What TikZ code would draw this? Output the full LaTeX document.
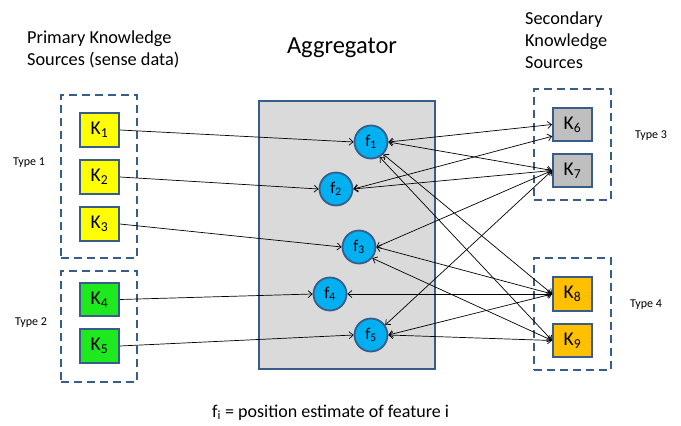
\documentclass[tikz,border=0pt]{standalone}
\usepackage{fontspec}
\setmainfont{Carlito}
\usetikzlibrary{arrows.meta}
\definecolor{bordc}{RGB}{56,93,138}
\definecolor{ky}{RGB}{255,255,0}
\definecolor{kg}{RGB}{30,232,30}
\definecolor{kgr}{RGB}{191,191,191}
\definecolor{ko}{RGB}{255,192,0}
\definecolor{cyanc}{RGB}{0,176,240}
\definecolor{aggc}{RGB}{218,218,218}
\begin{document}
\begin{tikzpicture}[x=1pt,y=-1pt,
  >={Straight Barb[length=4pt,width=7pt]},
  kbox/.style={draw=bordc,line width=1.8pt,minimum width=39pt,minimum height=33.5pt,inner sep=0pt,font=\fontsize{19.5}{21}\selectfont},
  fnode/.style={circle,draw=bordc,fill=cyanc,line width=1.8pt,minimum size=33pt,inner sep=0pt,font=\fontsize{16.5}{18}\selectfont},
  grp/.style={draw=bordc,line width=2.4pt,dash pattern=on 8pt off 5pt,inner sep=0pt},
  title/.style={anchor=base west,inner sep=0pt,font=\fontsize{18.3}{22}\selectfont},
  typel/.style={inner sep=0pt,font=\fontsize{12}{14}\selectfont},
  feed/.style={draw=black,line width=0.7pt,->},
  link/.style={draw=black,line width=0.7pt,<->},
]
\useasboundingbox (0,0) rectangle (681,426);

% titles
\node[title] (t1a) at (27,43) {Primary Knowledge};
\node[title] (t1b) at (27,65) {Sources (sense data)};
\node[anchor=base,inner sep=0pt,font=\fontsize{24.5}{27}\selectfont] (t2) at (342,53) {Aggregator};
\node[title] (t3a) at (525,24) {Secondary};
\node[title] (t3b) at (525,46) {Knowledge};
\node[title] (t3c) at (525,68) {Sources};

% group boxes
\node[grp,minimum width=76pt,minimum height=163pt] (g1) at (99,176.5) {};
\node[grp,minimum width=76pt,minimum height=111pt] (g2) at (99,326.5) {};
\node[grp,minimum width=77pt,minimum height=111pt] (g3) at (572.5,144.5) {};
\node[grp,minimum width=77pt,minimum height=112pt] (g4) at (572.5,314) {};

\node[typel] (ty1) at (29,163) {Type 1};
\node[typel] (ty2) at (31,323) {Type 2};
\node[typel] (ty3) at (651,136) {Type 3};
\node[typel] (ty4) at (646,305) {Type 4};

% aggregator
\node[draw=bordc,fill=aggc,line width=2pt,minimum width=176pt,minimum height=268pt,inner sep=0pt] (agg) at (347,235) {};

% knowledge sources
\node[kbox,fill=ky] (K1) at (99.5,130) {K\textsubscript{1}};
\node[kbox,fill=ky] (K2) at (99.5,177) {K\textsubscript{2}};
\node[kbox,fill=ky] (K3) at (99.5,224) {K\textsubscript{3}};
\node[kbox,fill=kg] (K4) at (99.5,299.5) {K\textsubscript{4}};
\node[kbox,fill=kg] (K5) at (99.5,346) {K\textsubscript{5}};
\node[kbox,fill=kgr] (K6) at (572.5,124.5) {K\textsubscript{6}};
\node[kbox,fill=kgr] (K7) at (572.5,170.5) {K\textsubscript{7}};
\node[kbox,fill=ko] (K8) at (572.5,294) {K\textsubscript{8}};
\node[kbox,fill=ko] (K9) at (572.5,340.5) {K\textsubscript{9}};

% features
\node[fnode] (f1) at (371,142) {f\textsubscript{1}};
\node[fnode] (f2) at (336,189) {f\textsubscript{2}};
\node[fnode] (f3) at (359,247) {f\textsubscript{3}};
\node[fnode] (f4) at (330,294) {f\textsubscript{4}};
\node[fnode] (f5) at (371,335) {f\textsubscript{5}};

% primary links
\draw[feed] (K1.east) -- (f1.west);
\draw[feed] (K2.east) -- (f2.west);
\draw[feed] (K3.east) -- (f3.west);
\draw[feed] (K4.east) -- (f4.west);
\draw[feed] (K5.east) -- (f5.west);

% secondary links
\draw[link] (f1.east) -- (K6.west);
\draw[link] (f1.east) -- (K7.west);
\draw[link] (f1.-45) -- (K8.west);
\draw[link] (f1.-60) -- (K9.west);
\draw[link] (f2.east) -- (K6.210);
\draw[link] (f2.east) -- (K7.west);
\draw[link] (f3.east) -- (K7.west);
\draw[link] (f3.east) -- (K8.west);
\draw[link] (f3.-40) -- (K9.west);
\draw[link] (f4.east) -- (K8.west);
\draw[link] (f5.35) -- (K7.west);
\draw[link] (f5.east) -- (K8.west);
\draw[link] (f5.east) -- (K9.west);

% caption
\node[anchor=base west,inner sep=0pt,font=\fontsize{18}{20}\selectfont] (cap) at (212,417) {f\textsubscript{i} = position estimate of feature i};
\end{tikzpicture}
\end{document}
